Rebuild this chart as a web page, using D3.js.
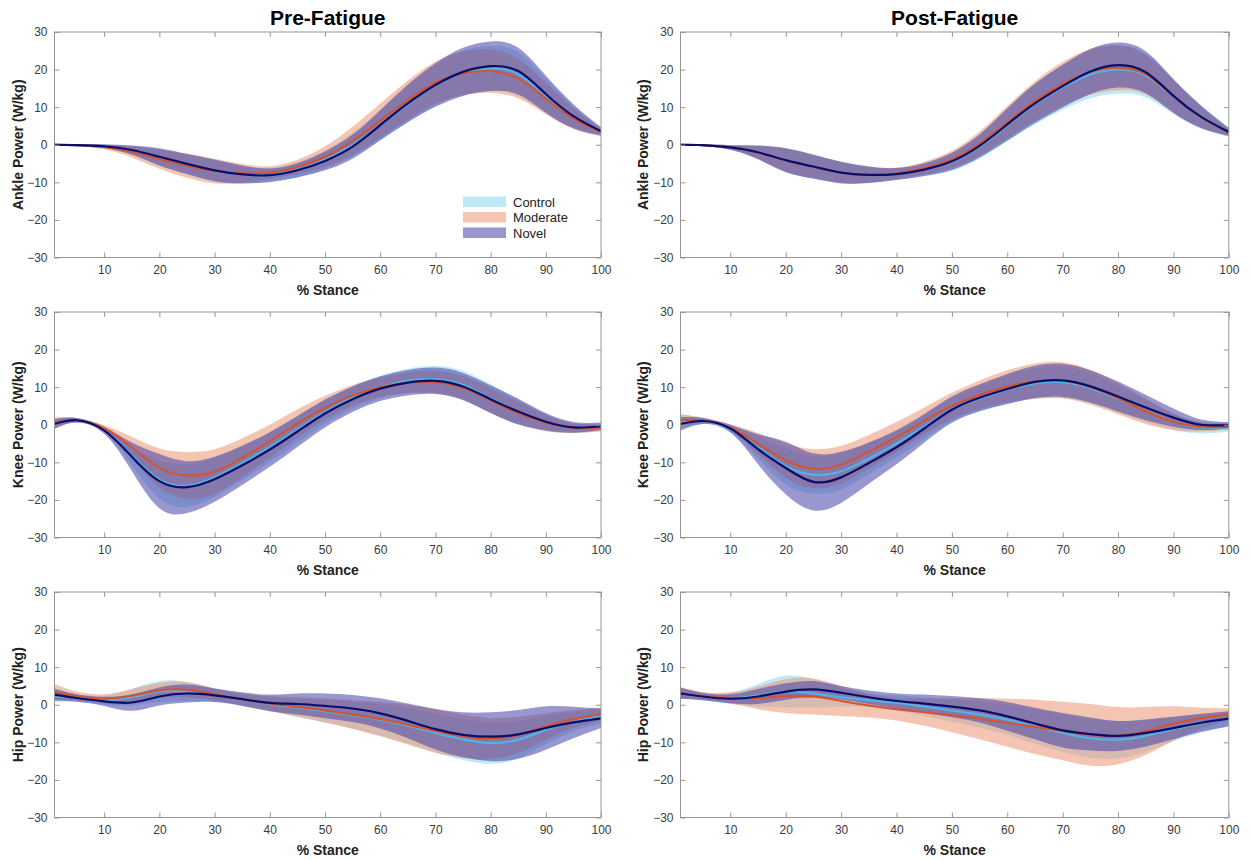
<!DOCTYPE html>
<html>
<head>
<meta charset="utf-8">
<script src="https://cdn.jsdelivr.net/npm/d3@7"></script>
<style>
  html, body { margin: 0; padding: 0; background: #fff; }
  svg { display: block; font-family: "Liberation Sans", Arial, Helvetica, sans-serif; }
</style>
</head>
<body>
<svg id="chart" width="1251" height="860"></svg>
<script>
// Percent of stance at which each group curve is sampled
const stance = [1, 5, 10, 15, 20, 25, 30, 35, 40, 45, 50, 55, 60, 65, 70, 75, 80, 85, 90, 95, 100];
const groups = ["Control", "Moderate", "Novel"];
const conditions = ["Pre-Fatigue", "Post-Fatigue"];
const joints = ["Ankle", "Knee", "Hip"];
const xTicks = [10, 20, 30, 40, 50, 60, 70, 80, 90, 100];
const yTicks = [-30, -20, -10, 0, 10, 20, 30];

// Ankle power (W/kg), group mean and standard deviation
const anklePreMean = {
  Control:  [0, -0.1, -0.5, -1.6, -3.4, -5.3, -7.0, -8.0, -8.0, -6.6, -4.0, 0.0, 5.2, 10.8, 15.8, 19.2, 20.3, 18.8, 13.0, 7.4, 3.2],
  Moderate: [0, -0.1, -0.6, -1.9, -3.8, -5.6, -7.0, -7.6, -7.4, -5.9, -3.2, 1.0, 6.4, 11.9, 16.5, 19.0, 19.6, 17.6, 12.3, 7.0, 3.4],
  Novel:    [0, -0.1, -0.4, -1.4, -3.2, -5.1, -6.8, -7.9, -8.1, -6.8, -4.3, -0.5, 5.2, 11.0, 15.9, 19.4, 20.9, 19.6, 13.5, 7.6, 3.6]
};
const anklePreSD = {
  Control:  [0.1, 0.2, 0.5, 1.2, 2.2, 2.6, 2.8, 2.3, 1.9, 2.0, 2.5, 3.2, 4.0, 4.8, 5.4, 5.9, 6.0, 5.8, 4.6, 3.0, 1.0],
  Moderate: [0.1, 0.2, 0.6, 1.5, 2.6, 3.2, 3.3, 2.5, 1.7, 1.9, 2.8, 3.8, 4.6, 5.2, 5.6, 5.8, 5.8, 5.2, 4.2, 2.8, 1.1],
  Novel:    [0.1, 0.2, 0.5, 1.2, 2.3, 2.7, 2.9, 2.4, 1.8, 1.9, 2.5, 3.2, 4.0, 5.0, 5.8, 6.4, 6.6, 6.2, 4.9, 3.2, 1.1]
};
const anklePostMean = {
  Control:  [0, -0.1, -0.7, -2.0, -4.0, -5.8, -7.3, -7.9, -7.7, -6.6, -4.6, -0.6, 5.2, 10.8, 15.3, 18.7, 20.0, 18.4, 12.8, 7.5, 3.4],
  Moderate: [0, -0.1, -0.7, -2.1, -4.1, -5.9, -7.4, -8.0, -7.6, -6.2, -3.9, 0.3, 6.0, 11.6, 16.2, 19.4, 20.5, 18.7, 12.9, 7.4, 3.2],
  Novel:    [0, -0.1, -0.7, -2.0, -4.1, -5.8, -7.4, -8.0, -7.8, -6.6, -4.4, -0.3, 5.4, 11.0, 15.6, 19.5, 21.2, 19.3, 13.0, 7.4, 3.4]
};
const anklePostSD = {
  Control:  [0.1, 0.2, 0.6, 1.8, 3.1, 3.1, 2.8, 2.2, 1.6, 1.7, 2.3, 3.1, 4.3, 5.4, 6.0, 6.3, 6.4, 5.8, 4.6, 3.1, 1.3],
  Moderate: [0.1, 0.2, 0.6, 1.8, 3.1, 3.1, 2.8, 2.1, 1.5, 1.7, 2.3, 3.2, 4.3, 5.3, 5.9, 6.1, 6.0, 5.3, 4.3, 2.8, 1.0],
  Novel:    [0.1, 0.2, 0.6, 1.8, 3.2, 3.2, 2.9, 2.2, 1.6, 1.7, 2.3, 3.1, 4.3, 5.2, 5.7, 6.0, 6.0, 5.6, 4.5, 3.0, 1.0]
};

// Knee power (W/kg)
const kneePreMean = {
  Control:  [0.3, 1.2, -1.4, -8.2, -14.6, -16.2, -14.0, -10.2, -6.0, -1.3, 3.4, 7.2, 10.0, 11.7, 12.1, 10.6, 7.0, 3.4, 0.6, -0.9, -0.6],
  Moderate: [0.5, 1.2, -0.9, -6.0, -11.5, -13.5, -12.5, -8.8, -4.4, 0.3, 4.5, 7.8, 10.0, 11.2, 11.3, 9.8, 6.5, 3.1, 0.5, -0.9, -0.8],
  Novel:    [0.2, 1.2, -1.5, -8.5, -15.0, -16.6, -14.5, -10.8, -6.6, -1.8, 3.0, 6.8, 9.6, 11.2, 11.7, 10.2, 6.8, 3.5, 0.8, -0.7, -0.4]
};
const kneePreSD = {
  Control:  [1.2, 0.6, 0.8, 2.5, 5.0, 5.6, 5.2, 4.6, 4.0, 3.6, 3.2, 3.0, 3.0, 3.2, 3.5, 3.7, 3.8, 3.4, 2.2, 1.3, 0.9],
  Moderate: [1.5, 0.6, 0.8, 2.8, 5.2, 6.2, 6.0, 5.2, 4.4, 3.8, 3.2, 2.8, 2.6, 2.8, 3.0, 3.2, 3.3, 3.0, 2.2, 1.3, 1.0],
  Novel:    [1.3, 0.6, 0.9, 3.8, 7.2, 6.9, 6.0, 5.2, 4.6, 4.1, 3.7, 3.4, 3.3, 3.4, 3.5, 3.6, 3.7, 3.4, 2.3, 1.4, 1.0]
};
const kneePostMean = {
  Control:  [0.8, 1.0, -1.2, -6.0, -11.0, -13.3, -12.4, -9.0, -5.0, -0.5, 4.0, 7.0, 9.4, 11.0, 11.3, 9.7, 6.8, 3.7, 0.8, -0.8, -0.6],
  Moderate: [1.2, 1.1, -0.8, -5.0, -9.5, -11.7, -10.6, -7.2, -3.3, 1.0, 5.0, 8.0, 10.2, 11.6, 11.8, 10.0, 7.0, 3.6, 0.8, -0.6, -0.5],
  Novel:    [0.2, 1.0, -1.0, -6.5, -11.5, -15.2, -14.0, -10.2, -6.0, -1.0, 4.0, 7.2, 9.5, 11.4, 11.8, 10.2, 7.5, 4.6, 1.9, 0.0, -0.1]
};
const kneePostSD = {
  Control:  [2.0, 0.8, 0.9, 3.0, 4.8, 5.0, 4.8, 4.2, 3.8, 3.4, 3.2, 3.4, 3.8, 4.1, 4.2, 4.0, 3.6, 3.0, 2.2, 1.5, 1.2],
  Moderate: [1.6, 0.8, 0.9, 2.8, 4.6, 5.2, 5.0, 4.5, 4.0, 3.6, 3.5, 3.8, 4.3, 4.7, 4.8, 4.6, 4.2, 3.4, 2.2, 1.2, 0.8],
  Novel:    [1.8, 0.8, 1.0, 4.0, 7.0, 7.6, 6.8, 5.5, 4.5, 3.8, 3.5, 3.6, 4.0, 4.3, 4.4, 4.3, 4.0, 3.4, 2.4, 1.4, 0.8]
};

// Hip power (W/kg)
const hipPreMean = {
  Control:  [2.2, 1.8, 1.2, 2.0, 3.5, 3.5, 2.5, 1.3, 0.2, -0.8, -1.7, -2.8, -4.0, -5.6, -7.5, -9.2, -10.2, -9.3, -6.7, -4.5, -3.0],
  Moderate: [3.3, 2.3, 1.6, 2.4, 3.8, 4.0, 2.8, 1.4, 0.3, -0.6, -1.5, -2.6, -3.8, -5.3, -7.0, -8.4, -9.0, -8.0, -5.8, -3.8, -2.5],
  Novel:    [2.7, 1.8, 0.9, 0.6, 2.2, 3.0, 2.5, 1.5, 0.5, 0.2, -0.3, -1.0, -2.3, -4.3, -6.5, -8.0, -8.5, -7.9, -6.2, -4.7, -3.6]
};
const hipPreSD = {
  Control:  [1.5, 1.0, 1.2, 2.2, 2.8, 2.6, 1.8, 1.6, 1.8, 2.4, 3.0, 3.6, 4.2, 4.8, 5.2, 5.5, 5.5, 5.0, 3.8, 2.6, 2.0],
  Moderate: [2.2, 1.2, 1.2, 1.8, 2.0, 2.0, 1.6, 1.6, 2.0, 2.6, 3.2, 3.8, 4.6, 5.3, 5.8, 5.8, 5.5, 4.8, 3.6, 2.4, 1.8],
  Novel:    [1.6, 1.0, 1.2, 2.2, 2.4, 2.4, 1.8, 1.8, 2.2, 2.8, 3.3, 3.6, 4.0, 4.6, 5.4, 6.0, 6.5, 6.5, 5.8, 4.2, 2.6]
};
const hipPostMean = {
  Control:  [3.0, 2.2, 1.7, 2.5, 3.5, 3.0, 2.0, 1.2, 0.5, -0.5, -1.5, -2.6, -4.0, -5.8, -7.5, -8.9, -9.3, -8.3, -6.5, -5.0, -3.8],
  Moderate: [3.2, 2.3, 1.8, 1.8, 2.3, 2.2, 1.0, -0.2, -1.2, -2.0, -2.8, -3.7, -4.8, -5.9, -7.0, -8.0, -8.2, -7.0, -5.0, -3.6, -2.5],
  Novel:    [3.0, 2.2, 1.6, 2.2, 3.5, 4.1, 3.2, 2.0, 1.0, 0.3, -0.5, -1.5, -3.1, -5.0, -6.8, -7.8, -8.3, -7.5, -6.2, -4.8, -3.7]
};
const hipPostSD = {
  Control:  [1.5, 1.0, 1.5, 3.0, 4.2, 3.8, 2.5, 1.8, 2.0, 2.5, 3.0, 3.5, 4.0, 4.6, 5.0, 5.2, 5.0, 4.2, 3.2, 2.4, 2.0],
  Moderate: [1.6, 1.0, 1.5, 3.0, 4.5, 4.8, 4.0, 3.2, 3.0, 3.6, 4.5, 5.5, 6.4, 7.2, 7.8, 8.2, 7.6, 6.4, 4.6, 2.8, 1.6],
  Novel:    [1.5, 1.0, 1.2, 2.0, 2.2, 2.2, 1.8, 1.8, 2.0, 2.4, 2.8, 3.2, 3.8, 4.2, 4.6, 4.4, 4.0, 3.6, 3.0, 2.4, 2.0]
};

// Band fills (drawn semi-transparent) and mean-line colours per group
const bandColor = { Control: "rgb(140,215,240)", Moderate: "rgb(235,150,115)", Novel: "rgb(70,65,170)" };
const lineColor = { Control: "#4db6e6", Moderate: "#d4532c", Novel: "#0c0c6a" };
const bandOpacity = 0.55;

const panels = [
  { joint: "Ankle", col: 0, row: 0, mean: anklePreMean,  sd: anklePreSD },
  { joint: "Ankle", col: 1, row: 0, mean: anklePostMean, sd: anklePostSD },
  { joint: "Knee",  col: 0, row: 1, mean: kneePreMean,   sd: kneePreSD },
  { joint: "Knee",  col: 1, row: 1, mean: kneePostMean,  sd: kneePostSD },
  { joint: "Hip",   col: 0, row: 2, mean: hipPreMean,    sd: hipPreSD },
  { joint: "Hip",   col: 1, row: 2, mean: hipPostMean,   sd: hipPostSD }
];

// Layout of the 3x2 grid
const colLeft = [54.5, 680.5];
const colWidth = [546.5, 548.3];
const rowTop = [32, 312, 592];
const plotH = 225.5;
const yLabelX = [18, 643];

const svg = d3.select("#chart");

conditions.forEach((c, i) => {
  svg.append("text")
    .attr("x", colLeft[i] + colWidth[i] / 2)
    .attr("y", 24.5)
    .attr("text-anchor", "middle")
    .style("font-size", "21px")
    .style("font-weight", "bold")
    .style("fill", "#000")
    .text(c);
});

panels.forEach((p, pi) => {
  const w = colWidth[p.col], h = plotH;
  const g = svg.append("g").attr("transform", `translate(${colLeft[p.col]},${rowTop[p.row]})`);
  const x = d3.scaleLinear().domain([1, 100]).range([0, w]);
  const y = d3.scaleLinear().domain([-30, 30]).range([h, 0]);

  const clipId = "clip" + pi;
  g.append("clipPath").attr("id", clipId)
    .append("rect").attr("width", w).attr("height", h);

  const plot = g.append("g").attr("clip-path", `url(#${clipId})`);
  const curve = d3.curveNatural;

  // Mean ± SD bands
  groups.forEach(grp => {
    const rows = stance.map((s, i) => ({ s, m: p.mean[grp][i], d: p.sd[grp][i] }));
    const area = d3.area()
      .x(d => x(d.s))
      .y0(d => y(d.m - d.d))
      .y1(d => y(d.m + d.d))
      .curve(curve);
    plot.append("path")
      .datum(rows)
      .attr("d", area)
      .attr("fill", bandColor[grp])
      .attr("fill-opacity", bandOpacity)
      .attr("stroke", "none");
  });

  // Group mean curves
  groups.forEach(grp => {
    const rows = stance.map((s, i) => ({ s, m: p.mean[grp][i] }));
    const line = d3.line().x(d => x(d.s)).y(d => y(d.m)).curve(curve);
    plot.append("path")
      .datum(rows)
      .attr("d", line)
      .attr("fill", "none")
      .attr("stroke", lineColor[grp])
      .attr("stroke-width", grp === "Novel" ? 2.2 : 2);
  });

  // Axes box with inward ticks on all four sides
  const tickColor = "#969696";
  const styleAxis = sel => {
    sel.select(".domain").remove();
    sel.selectAll(".tick line").attr("stroke", tickColor);
    sel.selectAll(".tick text")
      .style("font-size", "12px")
      .style("fill", "#3a3a3a")
      .style("font-family", "'Liberation Sans', Arial, sans-serif");
  };

  g.append("g").attr("transform", `translate(0,${h})`)
    .call(d3.axisBottom(x).tickValues(xTicks).tickSize(-5).tickPadding(8))
    .call(styleAxis);
  g.append("g")
    .call(d3.axisTop(x).tickValues(xTicks).tickSize(-5).tickFormat(""))
    .call(styleAxis);
  g.append("g")
    .call(d3.axisLeft(y).tickValues(yTicks).tickSize(-5).tickPadding(7))
    .call(styleAxis);
  g.append("g").attr("transform", `translate(${w},0)`)
    .call(d3.axisRight(y).tickValues(yTicks).tickSize(-5).tickFormat(""))
    .call(styleAxis);

  g.append("rect")
    .attr("width", w).attr("height", h)
    .attr("fill", "none")
    .attr("stroke", tickColor)
    .attr("stroke-width", 1);

  // Axis titles
  g.append("text")
    .attr("x", w / 2)
    .attr("y", h + 37)
    .attr("text-anchor", "middle")
    .style("font-size", "14px")
    .style("font-weight", "bold")
    .style("fill", "#222")
    .text("% Stance");

  svg.append("text")
    .attr("transform", `translate(${yLabelX[p.col]},${rowTop[p.row] + h / 2}) rotate(-90)`)
    .attr("text-anchor", "middle")
    .attr("dy", "0.35em")
    .style("font-size", "14px")
    .style("font-weight", "bold")
    .style("fill", "#222")
    .text(`${p.joint} Power (W/kg)`);

  // Legend in the first panel
  if (pi === 0) {
    const lg = g.append("g").attr("transform", `translate(${408.5},${164.5})`);
    groups.forEach((grp, i) => {
      lg.append("rect")
        .attr("x", 0).attr("y", i * 15.5)
        .attr("width", 43).attr("height", 10.5)
        .attr("fill", bandColor[grp])
        .attr("fill-opacity", bandOpacity);
      lg.append("text")
        .attr("x", 50).attr("y", i * 15.5 + 5.5)
        .attr("dy", "0.35em")
        .style("font-size", "13px")
        .style("fill", "#222")
        .text(grp);
    });
  }
});
</script>
</body>
</html>
